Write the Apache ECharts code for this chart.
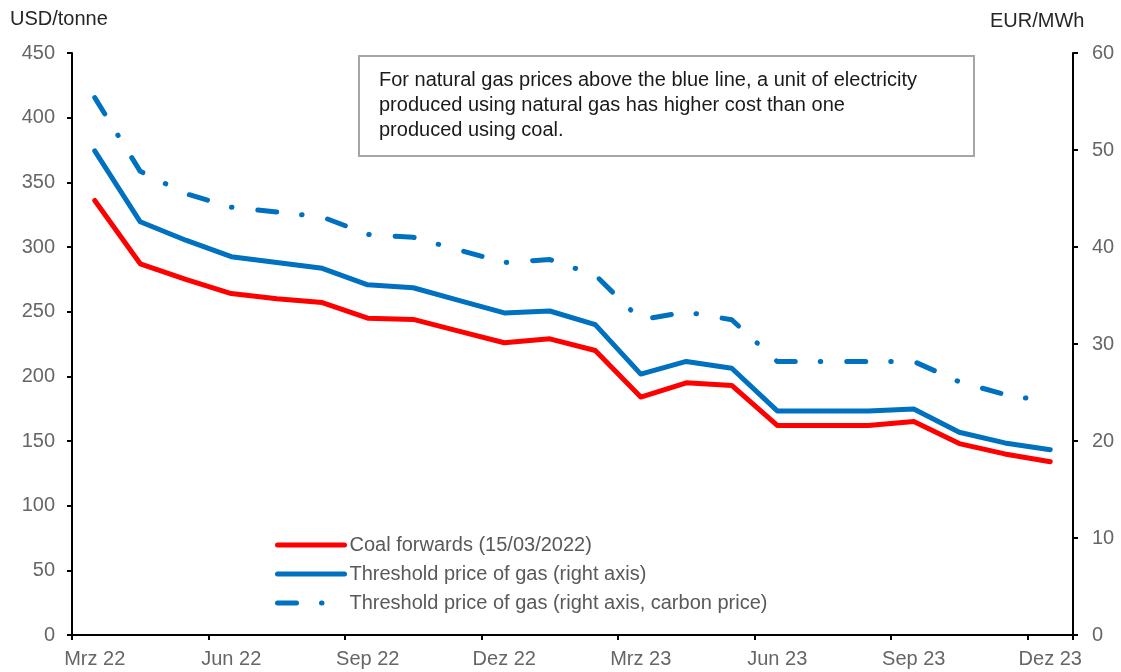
<!DOCTYPE html>
<html>
<head>
<meta charset="utf-8">
<script src="https://cdn.jsdelivr.net/npm/echarts@6/dist/echarts.min.js"></script>
<style>
  html, body { margin: 0; padding: 0; background: #fff; }
  #chart { width: 1121px; height: 672px; }
</style>
</head>
<body>
<div id="chart"></div>
<script>
// monthly forward curve, Mar 2022 .. Dec 2023
const months = ["Mrz 22", "Apr 22", "Mai 22", "Jun 22", "Jul 22", "Aug 22", "Sep 22", "Okt 22", "Nov 22", "Dez 22",
  "Jan 23", "Feb 23", "Mrz 23", "Apr 23", "Mai 23", "Jun 23", "Jul 23", "Aug 23", "Sep 23", "Okt 23", "Nov 23", "Dez 23"];

// USD/tonne (left axis)
const coalForwards = [336, 287, 275, 264, 260, 257, 245, 244, 235, 226, 229, 220, 184, 195, 193, 162, 162, 162, 165, 148, 140, 134];
// EUR/MWh (right axis)
const gasThreshold = [49.9, 42.6, 40.7, 39.0, 38.4, 37.8, 36.1, 35.8, 34.5, 33.2, 33.4, 32.0, 26.9, 28.2, 27.5, 23.1, 23.1, 23.1, 23.3, 20.9, 19.8, 19.1];
const gasThresholdCarbon = [55.4, 47.8, 45.5, 44.1, 43.6, 43.1, 41.3, 41.0, 39.7, 38.4, 38.7, 37.1, 32.5, 33.3, 32.5, 28.2, 28.2, 28.2, 28.2, 26.1, 24.8, 24.0];

const leftTicks = { min: 0, max: 450, interval: 50 };
const rightTicks = { min: 0, max: 60, interval: 10 };

const seriesNames = [
  "Coal forwards (15/03/2022)",
  "Threshold price of gas (right axis)",
  "Threshold price of gas (right axis, carbon price)"
];

const note = "For natural gas prices above the blue line, a unit of electricity\nproduced using natural gas has higher cost than one\nproduced using coal.";

const FONT = "'Liberation Sans', Arial, sans-serif";
const RED = "#ff0000";
const BLUE = "#0070c0";
const LABEL = "#666666";

const chart = echarts.init(document.getElementById("chart"));

const axisLine = { show: true, lineStyle: { color: "#000", width: 2 } };
const axisTick = { show: true, length: 5, lineStyle: { color: "#000", width: 2 } };

chart.setOption({
  animation: false,
  backgroundColor: "#fff",
  textStyle: { fontFamily: FONT },
  grid: { left: 72, right: 48, top: 53, bottom: 37 },
  legend: {
    orient: "vertical",
    left: 275,
    top: 535,
    padding: 0,
    itemWidth: 67,
    itemHeight: 20,
    itemGap: 9,
    itemStyle: { opacity: 0 },
    lineStyle: { width: 5, cap: "round" },
    textStyle: { fontFamily: FONT, fontSize: 20, color: "#595959" },
    data: seriesNames
  },
  xAxis: {
    type: "category",
    data: months,
    boundaryGap: true,
    axisLine: axisLine,
    axisTick: { ...axisTick, interval: i => i % 3 === 0 },
    axisLabel: {
      interval: i => i % 3 === 0,
      color: LABEL, fontSize: 20, fontFamily: FONT, margin: 14
    },
    splitLine: { show: false }
  },
  yAxis: [
    {
      type: "value",
      position: "left",
      ...leftTicks,
      axisLine: axisLine,
      axisTick: axisTick,
      axisLabel: { color: LABEL, fontSize: 20, fontFamily: FONT, margin: 17 },
      splitLine: { show: false }
    },
    {
      type: "value",
      position: "right",
      ...rightTicks,
      axisLine: axisLine,
      axisTick: axisTick,
      axisLabel: { color: LABEL, fontSize: 20, fontFamily: FONT, margin: 19 },
      splitLine: { show: false }
    }
  ],
  series: [
    {
      name: seriesNames[0],
      type: "line",
      yAxisIndex: 0,
      data: coalForwards,
      symbol: "none",
      lineStyle: { color: RED, width: 5, cap: "round", join: "round" },
      itemStyle: { color: RED }
    },
    {
      name: seriesNames[1],
      type: "line",
      yAxisIndex: 1,
      data: gasThreshold,
      symbol: "none",
      lineStyle: { color: BLUE, width: 5, cap: "round", join: "round" },
      itemStyle: { color: BLUE }
    },
    {
      name: seriesNames[2],
      type: "line",
      yAxisIndex: 1,
      data: gasThresholdCarbon,
      symbol: "none",
      lineStyle: { color: BLUE, width: 5, type: [19, 25, 0.5, 26], cap: "round", join: "round" },
      itemStyle: { color: BLUE }
    }
  ],
  graphic: [
    { type: "text", left: 10, top: 9, style: { text: "USD/tonne", font: "20px " + FONT, fill: "#262626" } },
    { type: "text", left: 990, top: 11, style: { text: "EUR/MWh", font: "20px " + FONT, fill: "#262626" } },
    {
      type: "group", left: 358, top: 55,
      children: [
        { type: "rect", shape: { x: 0, y: 0, width: 615, height: 100 },
          style: { fill: "#fff", stroke: "#a6a6a6", lineWidth: 2 } },
        { type: "text", x: 20, y: 12,
          style: { text: note, font: "20px " + FONT, fill: "#1a1a1a", lineHeight: 25 } }
      ]
    }
  ]
});
</script>
</body>
</html>
